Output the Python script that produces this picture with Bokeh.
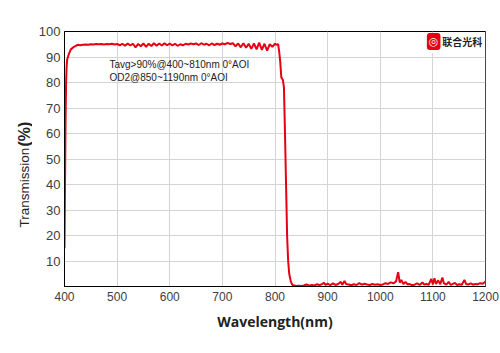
import math
from bokeh.plotting import figure
from bokeh.layouts import row
from bokeh.models import Label, FixedTicker, Range1d, BoxAnnotation, Span
from bokeh.embed import file_html
from bokeh.resources import INLINE

# ---- data ----
wavelength = [400, 401, 402, 403, 404, 405, 408, 412, 418, 425,
              430, 435, 440, 445, 450, 455, 460, 465, 470, 475, 480, 485, 490, 495,
              500, 505, 510, 515, 520, 525, 530, 535, 540, 545, 550, 555, 560, 565,
              570, 575, 580, 585, 590, 595, 600, 605, 610, 615, 620, 625, 630, 635,
              640, 645, 650, 655, 660, 665, 670, 675, 680, 685, 690, 695, 700, 705,
              710, 715, 720, 725, 730, 735, 740, 745, 750, 755, 760, 765, 770, 775,
              780, 785, 790, 795, 800, 803, 806, 808, 810, 812, 815, 817, 819, 821,
              823, 825, 827, 830, 833,
              835, 840, 845, 850, 855, 860, 865, 870, 875, 880, 885, 890, 893, 896,
              900, 905, 910, 915, 920, 925, 928, 932, 935, 940, 945, 950, 955, 960,
              965, 970, 975, 980, 985, 990, 995, 1000, 1005, 1010, 1015, 1020, 1025,
              1030, 1034, 1037, 1040, 1044, 1048, 1052, 1055, 1060, 1065, 1070, 1075,
              1080, 1083, 1088, 1092, 1097, 1100, 1103, 1106, 1110, 1114, 1118, 1121,
              1126, 1130, 1134, 1138, 1142, 1146, 1150, 1155, 1160, 1163, 1167, 1172,
              1176, 1180, 1185, 1190, 1195, 1200]
transmission = [15, 40, 65, 80, 86, 89, 91, 93, 94, 94.8,
                94.6, 94.8, 94.9, 94.8, 95.0, 94.9, 95.1, 95.0, 95.1, 94.9, 95.1, 95.0, 95.2, 94.9,
                95.1, 94.6, 95.2, 94.4, 95.3, 94.5, 95.2, 93.8, 95.1, 94.2, 95.3, 94.0, 95.2, 94.3,
                95.4, 94.4, 95.3, 94.5, 95.4, 94.6, 95.3, 94.5, 95.2, 94.4, 95.0, 94.6, 95.2, 94.9,
                95.3, 95.0, 95.3, 94.7, 95.4, 94.8, 95.2, 94.6, 95.3, 94.7, 95.2, 94.8, 95.3, 95.0,
                95.5, 95.1, 95.4, 94.2, 95.3, 93.8, 95.4, 93.6, 95.2, 93.2, 95.3, 93.0, 95.6, 92.8,
                95.2, 92.5, 95.0, 94.0, 95.2, 94.8, 95.0, 92.0, 88.0, 82.0, 81.0, 78.0, 60.0, 40.0,
                20.0, 10.0, 5.0, 2.0, 0.6,
                0.5, 0.2, 0.3, 0.2, 0.4, 0.8, 0.3, 0.6, 0.4, 0.9, 0.5, 1.0, 1.4, 0.6,
                1.1, 0.5, 1.2, 0.6, 1.0, 1.8, 0.7, 2.2, 1.0, 0.8, 0.5, 0.9, 0.6, 1.3,
                0.7, 1.1, 0.8, 0.6, 1.0, 0.7, 0.9, 0.6, 0.8, 1.3, 1.0, 1.6, 1.2,
                2.0, 5.6, 1.5, 2.6, 1.0, 1.8, 0.8, 1.0, 0.5, 0.7, 1.2, 0.6,
                1.6, 0.8, 1.0, 0.6, 3.0, 0.8, 3.2, 1.0, 2.4, 0.9, 3.5, 1.2,
                0.8, 1.8, 0.6, 1.0, 1.4, 0.6, 0.9, 0.7, 2.6, 1.0, 0.8, 1.2,
                0.7, 1.0, 0.9, 1.3, 1.1, 2.0]
x_ticks = [400, 500, 600, 700, 800, 900, 1000, 1100, 1200]
y_ticks = [10, 20, 30, 40, 50, 60, 70, 80, 90, 100]
note_lines = ["Tavg>90%@400~810nm 0°AOI", "OD2@850~1190nm 0°AOI"]
y_title = ["Transmission", "(%)"]

H = 353
LW = 32  # width of the strip that holds the y title

# ---- strip with the y-axis title ----
side = figure(width=LW, height=H, output_backend="svg", toolbar_location=None,
              x_range=Range1d(0, 1), y_range=Range1d(0, 1),
              x_axis_type=None, y_axis_type=None,
              min_border=0, min_border_left=0, min_border_right=0,
              min_border_top=0, min_border_bottom=0)
side.outline_line_color = None
side.xgrid.visible = False
side.ygrid.visible = False
side.add_layout(Label(x=24, y=59, x_units="screen", y_units="screen",
                      text=y_title[0], angle=math.pi / 2,
                      text_align="left", text_baseline="middle",
                      text_font="Liberation Sans", text_font_size="13.5px", text_color="#222222"))
side.add_layout(Label(x=24, y=140, x_units="screen", y_units="screen",
                      text=y_title[1], angle=math.pi / 2,
                      text_align="left", text_baseline="middle", text_font_style="bold",
                      text_font="Liberation Sans", text_font_size="16px", text_color="#222222"))

# ---- main chart ----
p = figure(width=500 - LW, height=H, output_backend="svg", toolbar_location=None,
           x_range=Range1d(400, 1200), y_range=Range1d(0, 100),
           min_border_left=64 - LW, min_border_right=15, min_border_top=31, min_border_bottom=67)
p.background_fill_color = "white"
p.border_fill_color = "white"
p.outline_line_color = "black"
p.outline_line_width = 1

p.xaxis.ticker = FixedTicker(ticks=x_ticks)
p.yaxis.ticker = FixedTicker(ticks=y_ticks)
for ax in (p.xaxis[0], p.yaxis[0]):
    ax.major_tick_in = 0
    ax.major_tick_out = 0
    ax.minor_tick_in = 0
    ax.minor_tick_out = 0
    ax.axis_line_color = "black"
    ax.axis_line_width = 1
    ax.major_label_text_font = "Liberation Sans"
    ax.major_label_text_color = "#404040"
p.xaxis.major_label_text_font_size = "12px"
p.yaxis.major_label_text_font_size = "13px"
p.xaxis.major_label_standoff = 5
p.yaxis.major_label_standoff = 4

p.xaxis.axis_label = "Wavelength(nm)"
p.xaxis.axis_label_text_font = "Open Sans"
p.xaxis.axis_label_text_font_style = "bold"
p.xaxis.axis_label_text_font_size = "14px"
p.xaxis.axis_label_text_color = "#222222"
p.xaxis.axis_label_standoff = 8

p.xgrid.grid_line_color = "#d4d4d4"
p.ygrid.grid_line_color = "#d4d4d4"
p.xgrid.grid_line_width = 1
p.ygrid.grid_line_width = 1

p.add_layout(Span(location=1200, dimension="height", line_color="#8c8c8c", line_width=1))

p.line(wavelength, transmission, line_color="#e60012", line_width=2)

# annotation
p.add_layout(Label(x=485.5, y=87.1, text=note_lines[0], text_align="left", text_baseline="middle",
                   text_font="Liberation Sans", text_font_size="10px", text_color="#222222"))
p.add_layout(Label(x=485.5, y=82.0, text=note_lines[1], text_align="left", text_baseline="middle",
                   text_font="Liberation Sans", text_font_size="10px", text_color="#222222"))

# logo
p.add_layout(BoxAnnotation(left=1088, right=1196, bottom=91.5, top=99.3,
                           fill_color="white", fill_alpha=1, line_color=None))
p.add_layout(Label(x=1101.5, y=96.1, text="◎", text_align="center", text_baseline="middle",
                   text_font="DejaVu Sans", text_font_size="11px", text_color="white",
                   text_font_style="bold",
                   background_fill_color="#e60012", padding=2, border_radius=3))
p.add_layout(Label(x=1118, y=96.1, text="联合光科", text_align="left", text_baseline="middle",
                   text_font="Noto Sans CJK SC", text_font_size="10px", text_font_style="bold",
                   text_color="#222222"))

layout = row(side, p, spacing=0)
open("out.html", "w").write(file_html(layout, INLINE))
